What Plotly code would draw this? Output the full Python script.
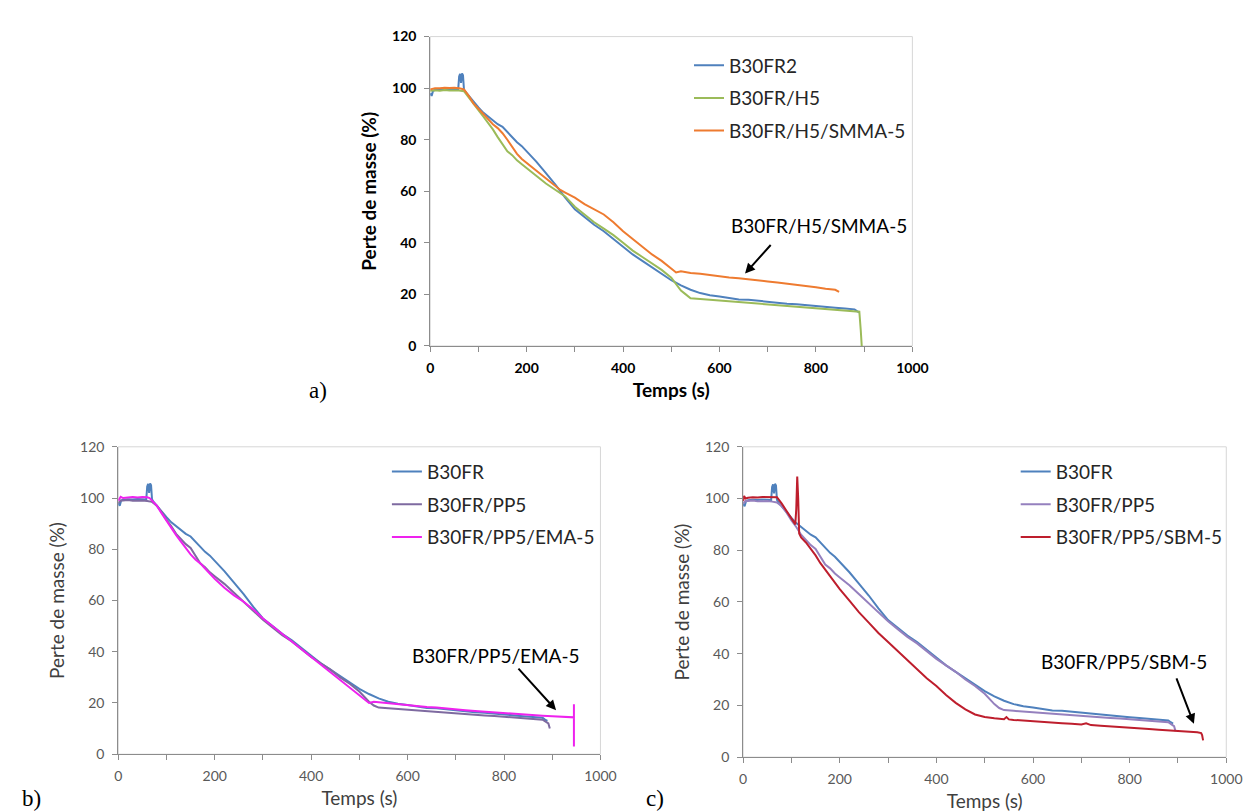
import plotly.graph_objects as go

# ---- data (time in s, mass in %) ----
# B30FR reference run (shown in all three panels)
B30FR_T = [0, 3, 6, 10, 20, 30, 40, 50, 58, 60, 62, 64, 66, 68, 70, 72,
           80, 90, 100, 110, 120, 130, 140, 150, 160, 170, 180, 190, 200,
           220, 240, 260, 280, 300, 320, 340, 360, 380, 400, 420, 440, 460, 480, 500,
           520, 540, 560, 580, 600, 620, 640, 660, 680, 700, 720, 740, 760, 780, 800,
           820, 840, 860, 880, 885, 890]
B30FR_V = [98, 97, 99, 99.3, 99.5, 99.4, 99.6, 99.5, 99.4, 104.5, 105.5, 102, 105.7, 105, 99.5, 98.8,
           97, 94.5, 92.5, 90.5, 89, 87.5, 86, 85, 83, 81, 79, 77.5, 75.5,
           71.5, 67, 62.5, 57.5, 53, 50, 47, 44.5, 41.5, 38.5, 35.5, 33, 30.5, 28, 25.5,
           23.5, 21.8, 20.5, 19.7, 19.2, 18.6, 18, 17.9, 17.5, 17.2, 16.8, 16.4, 16.2, 15.8, 15.4,
           15.1, 14.8, 14.5, 14.2, 13.5, 13]

# panel a
H5_T = [0, 10, 20, 30, 40, 50, 60, 70,
        80, 90, 100, 110, 120, 130, 140, 150, 160, 170, 180, 190, 200,
        220, 240, 260, 280, 300, 320, 340, 360, 380, 400, 420, 440, 460, 480, 500,
        510, 520, 530, 540,
        560, 580, 600, 620, 640, 660, 680, 700, 720, 740, 760, 780, 800, 820, 840, 860, 880,
        890, 893, 895]
H5_V = [99, 99.2, 99, 99.3, 99.1, 99.2, 99.1, 98.8,
        96.5, 94, 91.5, 89, 86.5, 84, 81, 78, 75.5, 74, 72, 70.5, 69,
        66, 63, 60.5, 58, 54, 51, 48, 45.5, 43, 40, 37, 34.5, 32, 29.5, 26.5,
        24, 21.5, 20, 18.5,
        18.2, 17.9, 17.6, 17.3, 17, 16.8, 16.4, 16.1, 15.8, 15.5, 15.3, 15, 14.7, 14.4, 14, 13.8, 13.5,
        13.3, 6, 0]

SMMA_T = [0, 10, 20, 30, 40, 50, 60, 70,
          80, 90, 100, 110, 120, 130, 140, 150, 160, 170, 180, 190, 200,
          220, 240, 260, 270, 280, 300, 320, 340, 360, 380, 400, 420, 440, 460, 480, 490, 500, 510, 520,
          540, 560, 580, 600, 620, 640, 660, 680, 700, 720, 740, 760, 780, 800, 820, 840,
          848]
SMMA_V = [99.5, 100, 100, 100.2, 100.1, 100.2, 100, 99.5,
          97, 94, 92, 90, 88, 86, 84.5, 82.5, 80, 77, 74.5, 72.5, 71,
          68, 65, 62, 60.5, 59.5, 57.5, 55, 53, 51, 48, 44.5, 41.5, 38.5, 35.5, 33, 31.5, 30, 28.5, 29,
          28.3, 28, 27.5, 27, 26.6, 26.3, 25.8, 25.5, 25, 24.6, 24.2, 23.8, 23.2, 22.8, 22.2, 21.8,
          21]

# panels b and c
PP5_T = [0, 5, 10, 20, 30, 40, 50, 60, 70,
         80, 90, 100, 110, 120, 130, 140, 150, 160, 170, 180, 190, 200,
         220, 240, 260, 280, 300, 320, 340, 360, 380, 400, 420, 440, 460, 480, 500,
         510, 520, 530, 540,
         560, 580, 600, 620, 640, 660, 680, 700, 720, 740, 760, 780, 800, 820, 840, 860, 880,
         888, 892, 895]
PP5_V = [98, 99, 99, 99.2, 98.9, 99, 99, 98.8, 98.5,
         97, 94.5, 91.5, 89, 86, 84, 82, 80.5, 77.5, 74.5, 73, 71, 69.5,
         66.5, 63, 59.5, 56, 52.5, 49.5, 46.5, 44, 41, 38, 35.5, 33, 30, 27.5, 24.5,
         22.5, 20.5, 19, 18.2,
         17.9, 17.6, 17.3, 17, 16.8, 16.5, 16.2, 16, 15.7, 15.4, 15.1, 14.9, 14.6, 14.3, 14, 13.8, 13.5,
         12.5, 12, 10]

EMA_T = [0, 5, 10, 20, 30, 40, 50, 60, 65, 70,
         80, 90, 100, 110, 120, 130, 140, 150, 160, 170, 180, 190, 200,
         220, 240, 260, 280, 300, 320, 340, 360, 380, 400, 420, 440, 460, 480, 500,
         510, 515, 520, 530, 540,
         560, 580, 600, 620, 640, 660, 680, 700, 720, 740, 760, 780, 800, 820, 840, 860, 880, 900, 920, 940,
         945, 945, 945]
EMA_V = [99, 100.5, 100, 100.3, 100.4, 100.2, 100.4, 100.3, 100, 99,
         97, 94, 91, 88, 85.5, 83, 80.5, 78, 76, 74.5, 72.5, 70.5, 68.5,
         65, 62, 59.5, 56.5, 53, 50, 47, 44, 41, 38, 35, 32, 29, 26, 23,
         21.5, 20.5, 20, 20.5, 20.3,
         19.8, 19.5, 19, 18.7, 18.4, 18.2, 17.8, 17.5, 17.2, 16.9, 16.6, 16.3, 16, 15.7, 15.5, 15.2, 15, 14.8, 14.6, 14.5,
         14.4, 19.5, 3]

SBM_T = [0, 2, 5, 10, 20, 30, 40, 50, 60, 70,
         80, 90, 100, 105, 108, 110, 112, 114, 116, 120,
         130, 140, 150, 160, 170, 180, 190, 200,
         220, 240, 260, 280, 300, 320, 340, 360, 380, 400, 420, 440, 460, 480, 500, 520, 540,
         545, 550, 560,
         580, 600, 620, 640, 660, 680, 700,
         710, 720,
         740, 760, 780, 800, 820, 840, 860, 880, 900, 920, 940,
         948, 950, 952]
SBM_V = [99, 101, 100, 100.3, 100.5, 100.4, 100.6, 100.5, 100.6, 100.5,
         98, 95, 92.5, 91, 90, 96, 108.5, 100, 86.5, 85,
         83, 80.5, 78, 75, 72.5, 70, 67.5, 65,
         60.5, 56, 52, 48, 44.5, 41, 37.5, 34, 30.5, 27.5, 24, 21, 18.5, 16.5, 15.5, 15, 14.7,
         15.5, 14.6, 14.4,
         14.1, 13.8, 13.6, 13.4, 13.1, 12.9, 12.6,
         13.1, 12.4,
         12.1, 11.9, 11.6, 11.3, 11.1, 10.9, 10.6, 10.4, 10.1, 9.9, 9.6,
         9.3, 8.5, 6.5]

X_TICKS = [0, 200, 400, 600, 800, 1000]
Y_TICKS = [0, 20, 40, 60, 80, 100, 120]

W, H = 1251, 811
FONT = "Lato"

fig = go.Figure()


def add_curve(t, v, name, color, xa, ya, legend):
    fig.add_trace(
        go.Scatter(
            x=t, y=v, mode="lines", name=name,
            line={"color": color, "width": 2},
            xaxis=xa, yaxis=ya, legend=legend,
            legendgroup=f"{legend}-{name}",
        )
    )


add_curve(B30FR_T, B30FR_V, "B30FR2", "#4F81BD", "x", "y", "legend")
add_curve(H5_T, H5_V, "B30FR/H5", "#9BBB59", "x", "y", "legend")
add_curve(SMMA_T, SMMA_V, "B30FR/H5/SMMA-5", "#EE7B30", "x", "y", "legend")

add_curve(B30FR_T, B30FR_V, "B30FR", "#4F81BD", "x2", "y2", "legend2")
add_curve(PP5_T, PP5_V, "B30FR/PP5", "#7E6AA0", "x2", "y2", "legend2")
add_curve(EMA_T, EMA_V, "B30FR/PP5/EMA-5", "#EE22EE", "x2", "y2", "legend2")

add_curve(B30FR_T, B30FR_V, "B30FR", "#4F81BD", "x3", "y3", "legend3")
add_curve(PP5_T, PP5_V, "B30FR/PP5", "#9580BE", "x3", "y3", "legend3")
add_curve(SBM_T, SBM_V, "B30FR/PP5/SBM-5", "#BE1E2D", "x3", "y3", "legend3")


def x_axis(domain, anchor, bold):
    color = "black" if bold else "#595959"
    tcolor = "black" if bold else "#404040"
    weight = "bold" if bold else "normal"
    return dict(
        domain=domain, anchor=anchor, range=[0, 1000],
        tickvals=X_TICKS, ticks="outside", ticklen=5, tickcolor="#8c8c8c",
        minor=dict(dtick=100, ticks="outside", ticklen=5, tickcolor="#8c8c8c"),
        showline=True, linecolor="#8c8c8c", linewidth=1,
        showgrid=False, zeroline=False, ticklabelstandoff=4,
        tickfont=dict(family=FONT, size=14, color=color, weight=weight),
        title=dict(text="Temps (s)", standoff=8,
                   font=dict(family=FONT, size=19, color=tcolor, weight=weight)),
    )


def y_axis(domain, anchor, bold):
    color = "black" if bold else "#595959"
    tcolor = "black" if bold else "#404040"
    weight = "bold" if bold else "normal"
    return dict(
        domain=domain, anchor=anchor, range=[0, 120],
        tickvals=Y_TICKS, ticks="outside", ticklen=5, tickcolor="#8c8c8c",
        showline=True, linecolor="#8c8c8c", linewidth=1,
        showgrid=False, zeroline=False, ticklabelstandoff=5,
        tickfont=dict(family=FONT, size=14, color=color, weight=weight),
        title=dict(text="Perte de masse (%)", standoff=10,
                   font=dict(family=FONT, size=19, color=tcolor, weight=weight)),
    )


def legend_at(left_px, top_px):
    return dict(
        x=left_px / W, y=1 - top_px / H, xanchor="left", yanchor="top",
        font=dict(family=FONT, size=19, color="#262626"),
        bgcolor="rgba(0,0,0,0)", tracegroupgap=5,
    )


def box(xref, yref):
    return dict(type="rect", xref=f"{xref} domain", yref=f"{yref} domain",
                x0=0, x1=1, y0=0, y1=1, layer="below",
                line=dict(color="#d6d6d6", width=1))


def arrow(xref, yref, x, y, ax, ay):
    return dict(xref=xref, yref=yref, x=x, y=y, ax=ax, ay=ay, text="",
                showarrow=True, arrowhead=2, arrowsize=1, arrowwidth=2,
                arrowcolor="black")


def label(xref, yref, x, y, text):
    return dict(xref=xref, yref=yref, x=x, y=y, text=text, showarrow=False,
                xanchor="left", yanchor="middle",
                font=dict(family=FONT, size=19, color="black"))


def panel_tag(x_px, y_px, text):
    return dict(xref="paper", yref="paper", x=x_px / W, y=1 - y_px / H,
                text=text, showarrow=False, xanchor="left", yanchor="middle",
                font=dict(family="Liberation Serif", size=23, color="black"))


fig.update_layout(
    width=W, height=H,
    margin=dict(l=0, r=0, t=0, b=0),
    paper_bgcolor="white", plot_bgcolor="white",
    xaxis=x_axis([425 / W, 915 / W], "y", True),
    yaxis=y_axis([1 - 336 / H, 1 - 20 / H], "x", True),
    xaxis2=x_axis([108 / W, 598 / W], "y2", False),
    yaxis2=y_axis([1 - 753 / H, 1 - 439 / H], "x2", False),
    xaxis3=x_axis([743 / W, 1234 / W], "y3", False),
    yaxis3=y_axis([1 - 756 / H, 1 - 439 / H], "x3", False),
    legend=legend_at(688, 30),
    legend2=legend_at(381, 445),
    legend3=legend_at(1020, 445),
    shapes=[box("x", "y"), box("x2", "y2"), box("x3", "y3")],
    annotations=[
        label("x", "y", 620, 46.7, "B30FR/H5/SMMA-5"),
        arrow("x", "y", 653, 28.1, 27, -30),
        label("x2", "y2", 606, 38.6, "B30FR/PP5/EMA-5"),
        arrow("x2", "y2", 908, 17.2, -39, -43),
        label("x3", "y3", 613, 37.1, "B30FR/PP5/SBM-5"),
        arrow("x3", "y3", 933, 12.9, -18, -47),
        panel_tag(300, 381, "a)"),
        panel_tag(8, 798, "b)"),
        panel_tag(642, 798, "c)"),
    ],
)

fig.write_html("out.html")
